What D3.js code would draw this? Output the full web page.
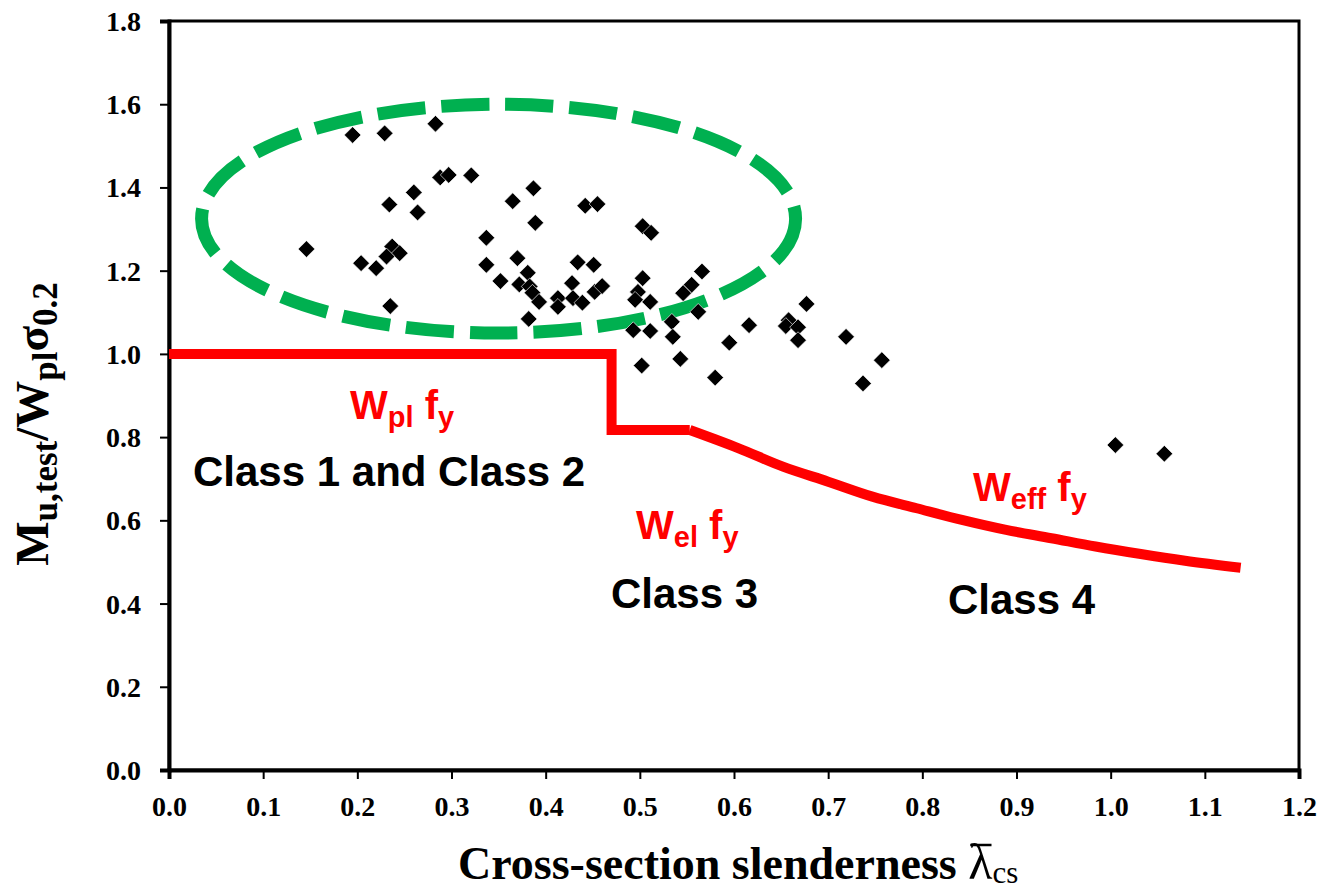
<!DOCTYPE html>
<html>
<head>
<meta charset="utf-8">
<script src="https://cdn.jsdelivr.net/npm/d3@7"></script>
<style>
  body { margin: 0; background: #fff; }
  svg text { font-weight: bold; }
  .tick text { font-family: "Liberation Serif", "Times New Roman", serif; font-size: 28px; }
</style>
</head>
<body>
<svg width="1324" height="893"></svg>
<script>
// test results: cross-section slenderness vs Mu,test / Wpl sigma0.2
var slenderness = [0.146, 0.195, 0.229, 0.283, 0.288, 0.297, 0.321, 0.260, 0.234, 0.264,
  0.237, 0.245, 0.231, 0.204, 0.220, 0.235, 0.387, 0.365, 0.389, 0.442,
  0.455, 0.503, 0.512, 0.337, 0.337, 0.370, 0.434, 0.451, 0.352, 0.381,
  0.372, 0.383, 0.386, 0.393, 0.413, 0.413, 0.428, 0.429, 0.439, 0.452,
  0.460, 0.382, 0.503, 0.498, 0.495, 0.511, 0.566, 0.555, 0.546, 0.562,
  0.493, 0.511, 0.534, 0.535, 0.502, 0.543, 0.580, 0.595, 0.616, 0.677,
  0.658, 0.655, 0.668, 0.668, 0.719, 0.757, 0.737, 1.005, 1.057];
var momentRatio = [1.252, 1.526, 1.530, 1.553, 1.424, 1.430, 1.429, 1.388, 1.359, 1.340,
  1.258, 1.242, 1.234, 1.218, 1.206, 1.115, 1.398, 1.367, 1.315, 1.356,
  1.360, 1.307, 1.291, 1.279, 1.214, 1.230, 1.220, 1.214, 1.175, 1.195,
  1.167, 1.162, 1.147, 1.125, 1.134, 1.113, 1.170, 1.134, 1.123, 1.149,
  1.163, 1.084, 1.182, 1.149, 1.130, 1.125, 1.198, 1.166, 1.146, 1.101,
  1.057, 1.055, 1.077, 1.041, 0.972, 0.988, 0.943, 1.027, 1.069, 1.120,
  1.081, 1.067, 1.064, 1.033, 1.041, 0.985, 0.929, 0.781, 0.760];

// design resistance: Wpl fy and Wel fy steps, then Weff fy curve
var stepX = [0, 0.470, 0.470, 0.553];
var stepY = [1.0, 1.0, 0.817, 0.817];
var curveX = [0.553, 0.605, 0.652, 0.700, 0.747, 0.794, 0.842, 0.889, 0.937, 0.984,
  1.032, 1.079, 1.138];
var curveY = [0.817, 0.773, 0.729, 0.693, 0.657, 0.629, 0.601, 0.577, 0.557, 0.537,
  0.519, 0.503, 0.486];

// ellipse around the stocky sections (centre x, centre y, half width, half height)
var ringCentre = [0.350, 1.325];
var ringRadius = [0.3154, 0.275];

var xTicks = [0, 0.1, 0.2, 0.3, 0.4, 0.5, 0.6, 0.7, 0.8, 0.9, 1.0, 1.1, 1.2];
var yTicks = [0, 0.2, 0.4, 0.6, 0.8, 1.0, 1.2, 1.4, 1.6, 1.8];

var svg = d3.select("svg");
var x = d3.scaleLinear().domain([0, 1.2]).range([169, 1299]);
var y = d3.scaleLinear().domain([0, 1.8]).range([770, 21]);

svg.append("rect").attr("width", 1324).attr("height", 893).attr("fill", "#fff");

// frame
svg.append("rect")
  .attr("x", x(0)).attr("y", y(1.8))
  .attr("width", x(1.2) - x(0)).attr("height", y(0) - y(1.8))
  .attr("fill", "none").attr("stroke", "#000").attr("stroke-width", 3);

// axes
var xAxis = svg.append("g")
  .attr("transform", "translate(0," + y(0) + ")")
  .call(d3.axisBottom(x).tickValues(xTicks).tickFormat(d3.format(".1f")).tickSize(9).tickPadding(17));
var yAxis = svg.append("g")
  .attr("transform", "translate(" + x(0) + ",0)")
  .call(d3.axisLeft(y).tickValues(yTicks).tickFormat(d3.format(".1f")).tickSize(9).tickPadding(19));
[xAxis, yAxis].forEach(function(g) {
  g.select(".domain").attr("stroke-width", 4);
  g.selectAll(".tick line").attr("stroke-width", 2);
  g.selectAll(".tick text").attr("fill", "#000");
});
yAxis.selectAll(".tick text").attr("dy", "0.34em");

// green dashed ellipse
svg.append("ellipse")
  .attr("cx", x(ringCentre[0])).attr("cy", y(ringCentre[1]))
  .attr("rx", x(ringRadius[0]) - x(0)).attr("ry", y(0) - y(ringRadius[1]))
  .attr("fill", "none").attr("stroke", "#00b050").attr("stroke-width", 13)
  .attr("stroke-dasharray", "48,16");

// red design line
var red = svg.append("g").attr("fill", "none").attr("stroke", "#ff0000").attr("stroke-width", 10);
red.append("path")
  .datum(stepX.map(function(d, i) { return [d, stepY[i]]; }))
  .attr("stroke-linejoin", "miter")
  .attr("d", d3.line().x(function(d) { return x(d[0]); }).y(function(d) { return y(d[1]); }));
red.append("path")
  .datum(curveX.map(function(d, i) { return [d, curveY[i]]; }))
  .attr("d", d3.line().curve(d3.curveMonotoneX).x(function(d) { return x(d[0]); }).y(function(d) { return y(d[1]); }));

// test points
var diamond = d3.symbol().type(d3.symbolSquare).size(140);
svg.append("g").selectAll("path")
  .data(slenderness).enter().append("path")
  .attr("d", diamond)
  .attr("transform", function(d, i) { return "translate(" + x(d) + "," + y(momentRatio[i]) + ") rotate(45)"; })
  .attr("fill", "#000").attr("stroke", "#fff").attr("stroke-width", 0.6);

// class labels
var sans = "'Liberation Sans', Arial, sans-serif";
[["Class 1 and Class 2", 193, 486], ["Class 3", 611, 608], ["Class 4", 948, 614]].forEach(function(c) {
  svg.append("text").attr("x", c[1]).attr("y", c[2])
    .style("font-family", sans).style("font-size", "42px").attr("fill", "#000")
    .text(c[0]);
});

// red resistance labels
[["pl", 350, 419], ["el", 636, 539], ["eff", 973, 501]].forEach(function(c) {
  var t = svg.append("text").attr("x", c[1]).attr("y", c[2])
    .style("font-family", sans).style("font-size", "40px").attr("fill", "#ff0000");
  t.append("tspan").text("W");
  t.append("tspan").attr("dy", 8).style("font-size", "29px").text(c[0]);
  t.append("tspan").attr("dy", -8).text(" f");
  t.append("tspan").attr("dy", 8).style("font-size", "29px").text("y");
});

// x axis title
var serif = "'Liberation Serif', 'Times New Roman', serif";
var xt = svg.append("text").attr("x", 458).attr("y", 879)
  .style("font-family", serif).style("font-size", "46px").attr("fill", "#000");
xt.append("tspan").text("Cross-section slenderness ");
xt.append("tspan").style("font-weight", "normal").style("font-size", "50px").text("\u03bb");
xt.append("tspan").attr("dy", 4).style("font-weight", "normal").style("font-size", "31px").text("cs");
var lam = "Cross-section slenderness ".length;
var n = xt.node();
var l0 = n.getStartPositionOfChar(lam).x, l1 = n.getEndPositionOfChar(lam).x;
svg.append("line").attr("x1", l0 + 2).attr("x2", l1 - 1).attr("y1", 845).attr("y2", 845)
  .attr("stroke", "#000").attr("stroke-width", 2.5);

// y axis title
var yt = svg.append("text")
  .attr("transform", "translate(48,424) rotate(-90)")
  .attr("text-anchor", "middle")
  .style("font-family", serif).style("font-size", "47px").attr("fill", "#000");
yt.append("tspan").text("M");
yt.append("tspan").attr("dy", 9).style("font-size", "35px").text("u,test");
yt.append("tspan").attr("dy", -9).text("/W");
yt.append("tspan").attr("dy", 9).style("font-size", "35px").text("pl");
yt.append("tspan").attr("dy", -9).text("\u03c3");
yt.append("tspan").attr("dy", 9).style("font-size", "35px").text("0.2");
</script>
</body>
</html>
